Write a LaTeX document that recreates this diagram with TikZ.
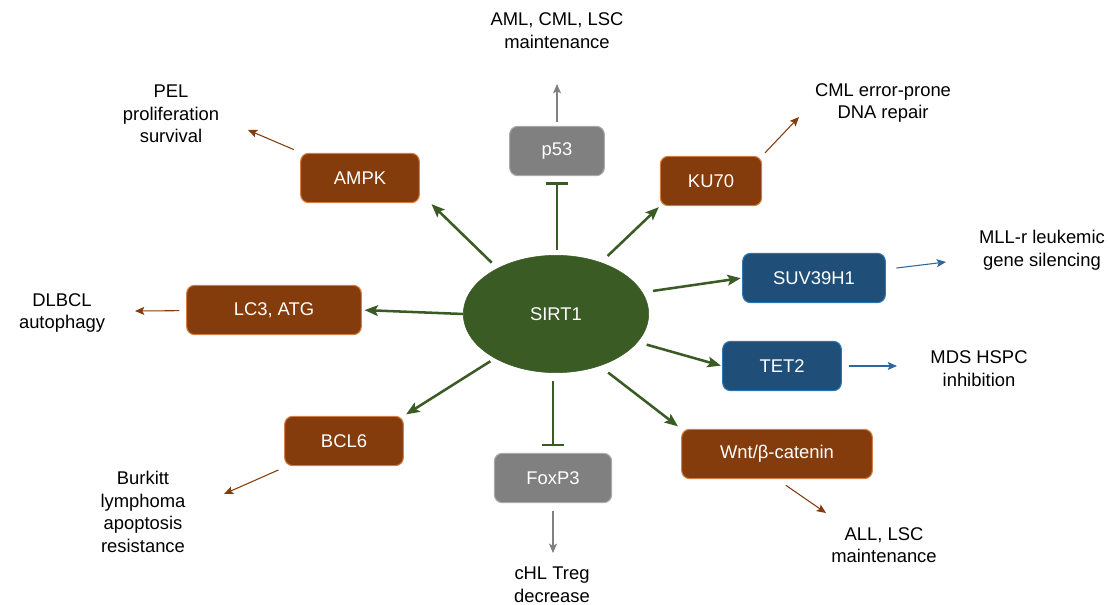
\documentclass[tikz,border=0pt]{standalone}
\usepackage{fontspec}
\setmainfont{Liberation Sans}
\usetikzlibrary{arrows,arrows.meta,shapes}

\definecolor{sirtgreen}{RGB}{58,91,36}
\definecolor{kinbrown}{RGB}{132,60,12}
\definecolor{kinedge}{RGB}{214,125,70}
\definecolor{chromblue}{RGB}{31,78,121}
\definecolor{chromedge}{RGB}{46,117,182}
\definecolor{outblue}{RGB}{46,102,160}
\definecolor{tfgray}{RGB}{128,128,128}
\definecolor{tfedge}{RGB}{170,170,170}

\begin{document}
\begin{tikzpicture}[x=0.75pt,y=-0.75pt,>={Stealth[length=10pt,width=8pt,inset=2pt]},font=\fontsize{13.8}{17}\selectfont]
            \tikzstyle{hub}=[ellipse,fill=sirtgreen,draw=sirtgreen,text=white,minimum width=139pt,minimum height=88pt,inner sep=0pt]
            \tikzstyle{tgtbox}=[rectangle,rounded corners=6pt,line width=0.8pt,text=white,minimum height=37pt,inner sep=2pt]
            \tikzstyle{brownbox}=[tgtbox,fill=kinbrown,draw=kinedge]
            \tikzstyle{bluebox}=[tgtbox,fill=chromblue,draw=chromedge]
            \tikzstyle{graybox}=[tgtbox,fill=tfgray,draw=tfedge]
            \tikzstyle{outcome}=[align=center,text=black,inner sep=0pt]
            \tikzstyle{act}=[->,draw=sirtgreen,line width=1.9pt]
            \tikzstyle{inh}=[-{Bar[width=16pt]},draw=sirtgreen,line width=1.9pt]
            \tikzstyle{effect}=[-{Stealth[length=7pt,width=6pt,inset=1.5pt]},line width=0.8pt]
            \useasboundingbox (0,0) rectangle (1110,605);
            \node[hub](sirt) at (556,314) {SIRT1};
            \node[graybox,minimum width=71pt](p53) at (557,151) {p53};
            \node[brownbox,minimum width=76pt](ku) at (711,181) {KU70};
            \node[bluebox,minimum width=107pt](suv) at (814,278) {SUV39H1};
            \node[bluebox,minimum width=89pt](tet) at (782,366) {TET2};
            \node[brownbox,minimum width=143pt](wnt) at (777,454) {Wnt/β-catenin};
            \node[graybox,minimum width=88pt](foxp) at (553,478) {FoxP3};
            \node[brownbox,minimum width=89pt](bcl) at (344,441) {BCL6};
            \node[brownbox,minimum width=131pt](lcatg) at (274,310) {LC3, ATG};
            \node[brownbox,minimum width=89pt](ampk) at (360,178) {AMPK};
            \node[outcome](amltext) at (557,31) {AML, CML, LSC\\maintenance};
            \node[outcome](cmltext) at (883,103) {CML error-prone\\DNA repair};
            \node[outcome](mlltext) at (1042,250) {MLL-r leukemic\\gene silencing};
            \node[outcome](mdstext) at (979,369) {MDS HSPC\\inhibition};
            \node[outcome](alltext) at (884,545) {ALL, LSC\\maintenance};
            \node[outcome](chltext) at (552,585) {cHL Treg\\decrease};
            \node[outcome](burkitttext) at (143,512) {Burkitt\\lymphoma\\apoptosis\\resistance};
            \node[outcome](dlbcltext) at (62,313) {DLBCL\\autophagy};
            \node[outcome](peltext) at (171,114) {PEL\\proliferation\\survival};
            \coordinate (amltip) at (557,84);
            \coordinate (cmltip) at (799,117);
            \coordinate (mlltip) at (946,262);
            \coordinate (mdstip) at (897,366);
            \coordinate (alltip) at (826,513);
            \coordinate (chltip) at (553,553);
            \coordinate (burkitttip) at (224,494);
            \coordinate (dlbcltip) at (135,311);
            \coordinate (peltip) at (248,130);
            \draw[inh,shorten <=4pt,shorten >=4.5pt] (p53.south |- sirt.north) -- (p53.south);
            \draw[inh,shorten <=6pt,shorten >=5pt] (foxp.north |- sirt.south) -- (foxp.north);
            \draw[act,shorten <=6pt,shorten >=1pt] (sirt.142) -- ([xshift=8pt]ampk.south east);
            \draw[act,shorten >=2pt] (sirt.west) -- (lcatg.east);
            \draw[act,shorten <=4pt,shorten >=2pt] (sirt.216) -- (bcl.north east);
            \draw[act,shorten <=8pt,shorten >=3pt] (sirt.310) -- (wnt.north west);
            \draw[act,shorten <=7pt,shorten >=1pt] (sirt.341) -- (tet.west);
            \draw[act,shorten <=8pt,shorten >=1pt] (sirt.14) -- (suv.west);
            \draw[act,shorten <=7pt,shorten >=1pt] (sirt.49) -- (ku.south west);
            \draw[effect,tfgray,shorten <=3pt] (p53) -- (amltip);
            \draw[effect,kinbrown,shorten <=3pt] (ku.north east) -- (cmltip);
            \draw[effect,outblue,shorten <=8pt] (suv) -- (mlltip);
            \draw[effect,outblue,shorten <=5pt] (tet) -- (mdstip);
            \draw[effect,kinbrown,shorten <=8pt] (wnt.south) -- (alltip);
            \draw[effect,tfgray,shorten <=6pt] (foxp) -- (chltip);
            \draw[effect,kinbrown,shorten <=7pt] (bcl) -- (burkitttip);
            \draw[effect,kinbrown,shorten <=5pt] (lcatg) -- (dlbcltip);
            \draw[effect,kinbrown,shorten <=6pt] (ampk) -- (peltip);
        \end{tikzpicture}
\end{document}
